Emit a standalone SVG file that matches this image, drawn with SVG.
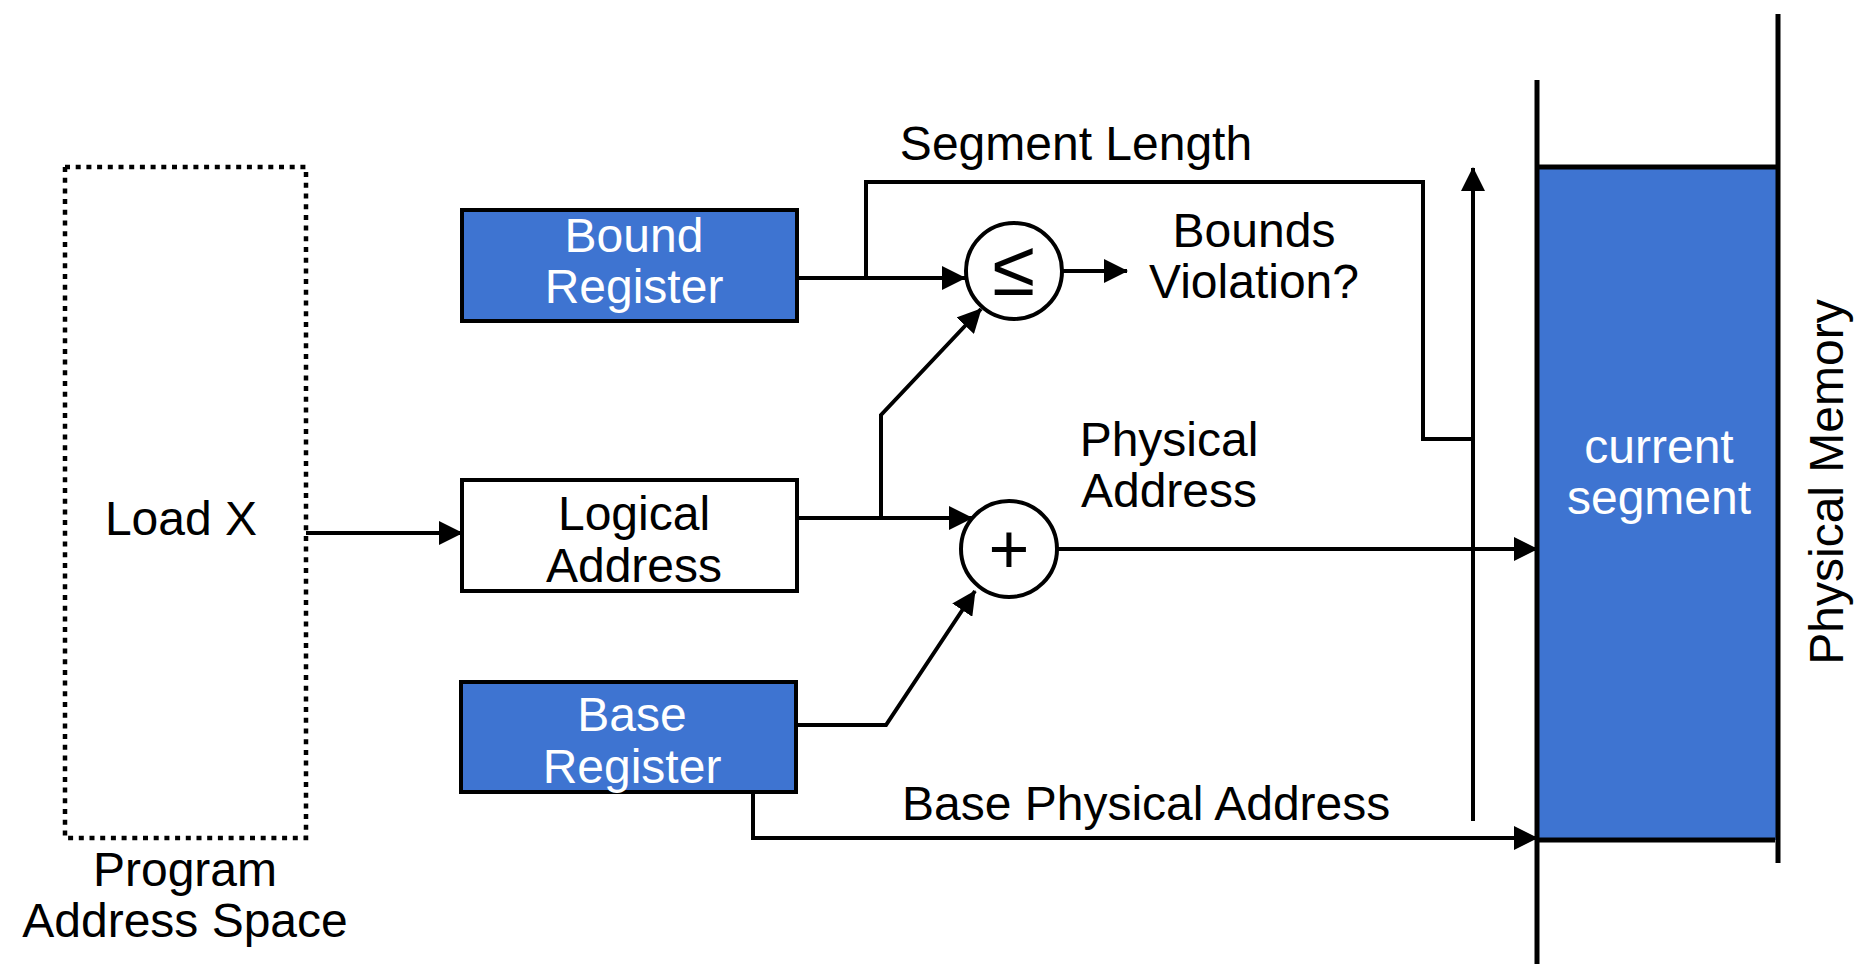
<svg xmlns="http://www.w3.org/2000/svg" width="1857" height="964" viewBox="0 0 1857 964">
<style>
text{font-family:"Liberation Sans",Arial,sans-serif;font-size:48px;fill:#000}
.w{fill:#fff}
.c{text-anchor:middle}
.box{stroke:#000;stroke-width:4}
.blue{fill:#3E74D1}
.ln{fill:none;stroke:#000;stroke-width:4;stroke-linejoin:miter}
.mem{fill:none;stroke:#000;stroke-width:5}
</style>
<defs>
<marker id="ah" markerUnits="userSpaceOnUse" markerWidth="24" markerHeight="24" refX="23" refY="12" orient="auto" viewBox="0 0 24 24">
<path d="M0,0 L24,12 L0,24 z" fill="#000"/>
</marker>
</defs>
<g id="program">
<rect x="65" y="167" width="241" height="671" fill="none" stroke="#000" stroke-width="4.5" stroke-dasharray="5 5.7"/>
<text class="c" x="181" y="535">Load X</text>
<text class="c" x="185" y="886">Program</text>
<text class="c" x="185" y="937">Address Space</text>
</g>
<g id="bound">
<rect class="box blue" x="462" y="210" width="335" height="111"/>
<text class="c w" x="634" y="252">Bound</text>
<text class="c w" x="634" y="303">Register</text>
</g>
<g id="logical">
<rect class="box" fill="#fff" x="462" y="480" width="335" height="111"/>
<text class="c" x="634" y="530">Logical</text>
<text class="c" x="634" y="582">Address</text>
</g>
<g id="base">
<rect class="box blue" x="461" y="682" width="335" height="110"/>
<text class="c w" x="632" y="731">Base</text>
<text class="c w" x="632" y="783">Register</text>
</g>
<g id="compare">
<circle cx="1014" cy="271" r="48" fill="#fff" stroke="#000" stroke-width="4"/>
<text class="c" x="1014" y="295" style="font-size:78px">≤</text>
</g>
<g id="adder">
<circle cx="1009" cy="549" r="48" fill="#fff" stroke="#000" stroke-width="4"/>
<text class="c" x="1009" y="573" style="font-size:70px">+</text>
</g>
<g id="memory">
<rect class="blue" x="1537" y="167" width="241" height="673"/>
<line class="mem" x1="1537" y1="167" x2="1778" y2="167"/>
<line class="mem" x1="1537" y1="840" x2="1775" y2="840"/>
<line class="mem" x1="1537" y1="80" x2="1537" y2="964"/>
<line class="mem" x1="1778" y1="14" x2="1778" y2="863"/>
<text class="c w" x="1659" y="463">current</text>
<text class="c w" x="1659" y="514">segment</text>
<text class="c" transform="translate(1843,482) rotate(-90)">Physical Memory</text>
</g>
<g id="labels">
<text class="c" x="1076" y="160">Segment Length</text>
<text class="c" x="1254" y="247">Bounds</text>
<text class="c" x="1254" y="298">Violation?</text>
<text class="c" x="1169" y="456">Physical</text>
<text class="c" x="1169" y="507">Address</text>
<text x="902" y="820">Base Physical Address</text>
</g>
<g id="connectors">
<line class="ln" x1="306" y1="533" x2="462" y2="533" marker-end="url(#ah)"/>
<line class="ln" x1="797" y1="278" x2="965" y2="278" marker-end="url(#ah)"/>
<polyline class="ln" points="866,278 866,182 1423,182 1423,439 1473,439"/>
<line class="ln" x1="1062" y1="271" x2="1127" y2="271" marker-end="url(#ah)"/>
<line class="ln" x1="797" y1="518" x2="972" y2="518" marker-end="url(#ah)"/>
<polyline class="ln" points="881,518 881,415 981,309" marker-end="url(#ah)"/>
<polyline class="ln" points="797,725 886,725 975,591" marker-end="url(#ah)"/>
<line class="ln" x1="1057" y1="549" x2="1537" y2="549" marker-end="url(#ah)"/>
<polyline class="ln" points="753,792 753,838 1537,838" marker-end="url(#ah)"/>
<line class="ln" x1="1473" y1="821" x2="1473" y2="168" marker-end="url(#ah)"/>
</g>
</svg>
